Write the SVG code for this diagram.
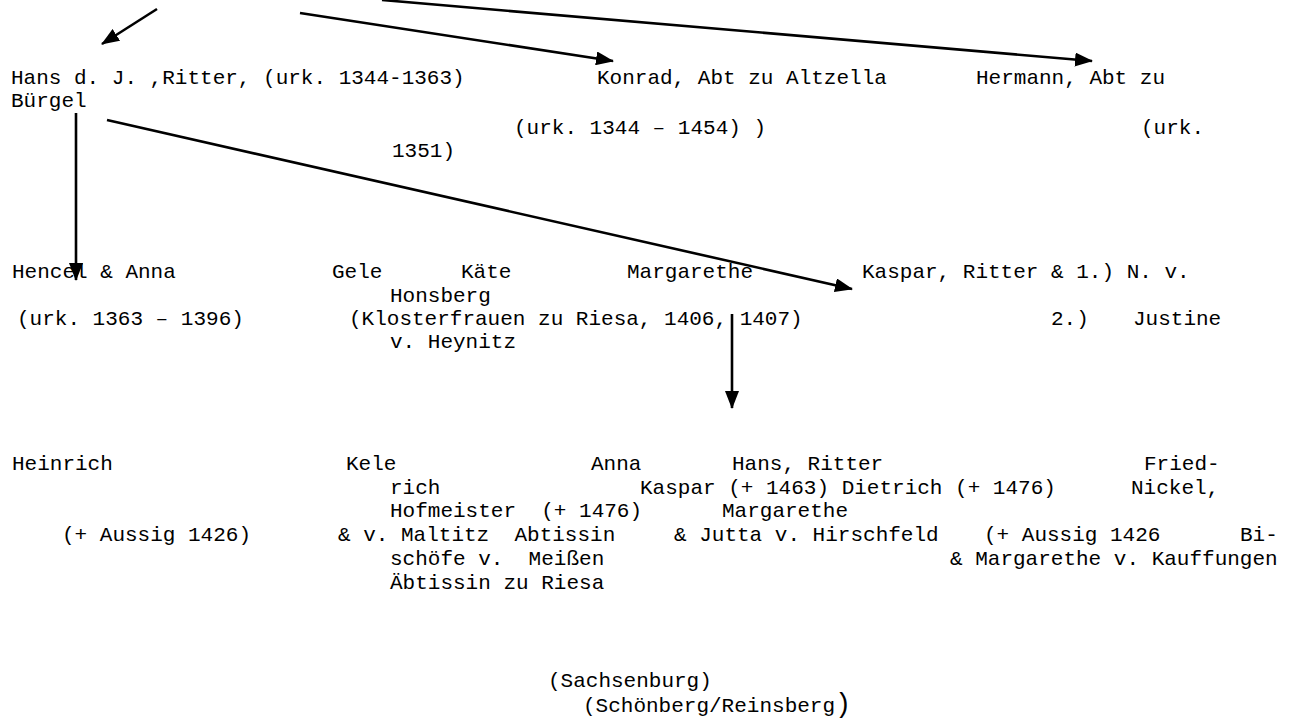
<svg xmlns="http://www.w3.org/2000/svg" width="1298" height="722" viewBox="0 0 1298 722">
  <style>
    text { font-family: "Liberation Mono", "Courier New", monospace; font-size: 21px; fill: #000; white-space: pre; }
    .edge { stroke: #000; stroke-width: 2.6; fill: none; marker-end: url(#head); }
  </style>
  <defs>
    <marker id="head" viewBox="0 0 18 14" refX="17" refY="7" markerWidth="18" markerHeight="14" markerUnits="userSpaceOnUse" orient="auto">
      <path d="M0,0 L18,7 L0,14 Z" fill="#000"/>
    </marker>
  </defs>
  <rect width="1298" height="722" fill="#fff"/>

  <!-- first generation -->
  <g id="hans-dj">
    <text x="11" y="84">Hans d. J. ,Ritter, (urk. 1344-1363)</text>
    <text x="11" y="107">Bürgel</text>
  </g>
  <g id="konrad">
    <text x="597" y="84">Konrad, Abt zu Altzella</text>
    <text x="514" y="134">(urk. 1344 – 1454) )</text>
  </g>
  <g id="hermann">
    <text x="976" y="84">Hermann, Abt zu</text>
    <text x="1141" y="134">(urk.</text>
    <text x="392" y="157">1351)</text>
  </g>

  <!-- second generation -->
  <g id="hencel">
    <text x="12" y="278">Hencel &amp; Anna</text>
    <text x="17" y="325">(urk. 1363 – 1396)</text>
  </g>
  <g id="sisters">
    <text x="332" y="278">Gele</text>
    <text x="461" y="278">Käte</text>
    <text x="627" y="278">Margarethe</text>
    <text x="349" y="325">(Klosterfrauen zu Riesa, 1406, 1407)</text>
  </g>
  <g id="kaspar">
    <text x="862" y="278">Kaspar, Ritter &amp; 1.) N. v.</text>
    <text x="390" y="302">Honsberg</text>
    <text x="1051" y="325">2.)</text>
    <text x="1133" y="325">Justine</text>
    <text x="390" y="348">v. Heynitz</text>
  </g>

  <!-- third generation -->
  <g id="heinrich">
    <text x="12" y="470">Heinrich</text>
    <text x="62" y="541">(+ Aussig 1426)</text>
  </g>
  <g id="kele">
    <text x="346" y="470">Kele</text>
    <text x="338" y="541">&amp; v. Maltitz  Abtissin</text>
  </g>
  <g id="anna">
    <text x="591" y="470">Anna</text>
  </g>
  <g id="hans-ritter">
    <text x="732" y="470">Hans, Ritter</text>
    <text x="722" y="517">Margarethe</text>
    <text x="674" y="541">&amp; Jutta v. Hirschfeld</text>
  </g>
  <g id="friedrich">
    <text x="1144" y="470">Fried-</text>
    <text x="390" y="494">rich</text>
    <text x="390" y="517">Hofmeister  (+ 1476)</text>
  </g>
  <g id="kaspar-dietrich">
    <text x="640" y="494">Kaspar (+ 1463) Dietrich (+ 1476)</text>
  </g>
  <g id="nickel">
    <text x="1131" y="494">Nickel,</text>
    <text x="984" y="541">(+ Aussig 1426</text>
    <text x="950" y="565">&amp; Margarethe v. Kauffungen</text>
  </g>
  <g id="bischoefe">
    <text x="1240" y="541">Bi-</text>
    <text x="390" y="565">schöfe v.  Meißen</text>
  </g>
  <g id="aebtissin">
    <text x="390" y="589">Äbtissin zu Riesa</text>
  </g>

  <!-- lines of descent -->
  <g id="lines">
    <text x="548" y="687">(Sachsenburg)</text>
    <text x="583" y="712">(Schönberg/Reinsberg<tspan font-size="27">)</tspan></text>
  </g>

  <g id="connectors">
    <line class="edge" x1="157" y1="9" x2="102" y2="44"/>
    <line class="edge" x1="300" y1="13" x2="613" y2="61"/>
    <line class="edge" x1="382" y1="0" x2="1092" y2="61"/>
    <line class="edge" x1="107" y1="120" x2="852" y2="289"/>
    <line class="edge" x1="76" y1="113" x2="76" y2="280"/>
    <line class="edge" x1="732" y1="314" x2="732" y2="408"/>
  </g>
</svg>
